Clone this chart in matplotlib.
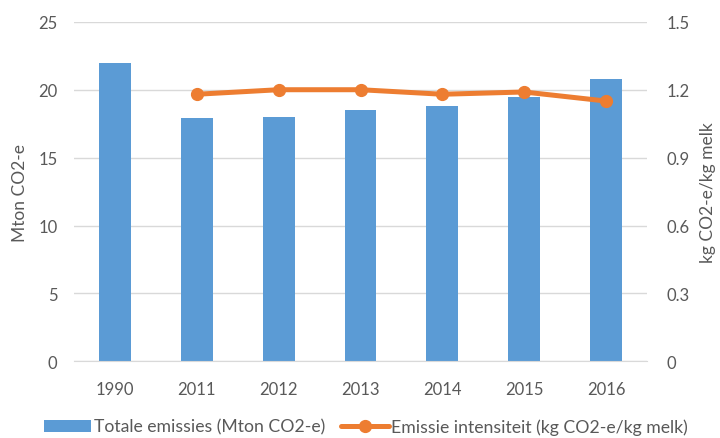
import matplotlib
matplotlib.use("Agg")
import matplotlib.pyplot as plt
import numpy as np

years = ["1990", "2011", "2012", "2013", "2014", "2015", "2016"]
emissions = [22.0, 17.9, 18.0, 18.5, 18.8, 19.5, 20.8]
int_years = ["2011", "2012", "2013", "2014", "2015", "2016"]
intensity = [1.18, 1.20, 1.20, 1.18, 1.19, 1.15]

plt.rcParams['font.family'] = ['Lato', 'DejaVu Sans']
grey = '#595959'
blue = '#5b9bd5'
orange = '#ed7d31'

fig = plt.figure(figsize=(7.2, 4.39), dpi=100)
ax = fig.add_axes([0.1028, 0.1747, 0.7958, 0.7733])
ax2 = ax.twinx()

x = np.arange(len(years))
ax.bar(x, emissions, width=0.39, color=blue, zorder=2, label="Totale emissies (Mton CO2-e)")
xi = [years.index(y) for y in int_years]
ax2.plot(xi, intensity, color=orange, lw=3.6, marker='o', markersize=8.5,
         solid_capstyle='round', label="Emissie intensiteit (kg CO2-e/kg melk)", zorder=3)

ax.set_xlim(-0.5, len(years) - 0.5)
ax.set_ylim(0, 25)
ax.set_yticks(np.arange(0, 26, 5))
ax2.set_ylim(0, 1.5)
ax2.set_yticks([0, 0.3, 0.6, 0.9, 1.2, 1.5])
ax2.set_yticklabels(["0", "0.3", "0.6", "0.9", "1.2", "1.5"])
ax.set_xticks(x)
ax.set_xticklabels(years)

ax.yaxis.grid(True, color='#d9d9d9', lw=1, zorder=0)
ax.set_axisbelow(True)
for a in (ax, ax2):
    for s in ('top', 'right', 'left'):
        a.spines[s].set_visible(False)
    a.spines['bottom'].set_color('#d9d9d9')
    a.tick_params(length=0, colors=grey, labelsize=12)
ax2.spines['bottom'].set_visible(False)
ax.tick_params(axis='y', pad=12)
ax.tick_params(axis='x', pad=14)
ax2.tick_params(axis='y', pad=14)

ax.set_ylabel("Mton CO2-e", color=grey, fontsize=12.5)
ax.yaxis.set_label_coords(-0.08, 0.5)
ax2.set_ylabel("kg CO2-e/kg melk", color=grey, fontsize=12.5)
ax2.yaxis.set_label_coords(1.093, 0.5)

h1, l1 = ax.get_legend_handles_labels()
h2, l2 = ax2.get_legend_handles_labels()
fig.legend(h1 + h2, l1 + l2, loc='center', bbox_to_anchor=(0.508, 0.026), ncol=2,
           frameon=False, fontsize=12.7, labelcolor=grey, handlelength=2.7,
           handletextpad=0.15, columnspacing=0.9, handleheight=0.7,
           borderpad=0.1)

fig.savefig("out.png", dpi=100)
